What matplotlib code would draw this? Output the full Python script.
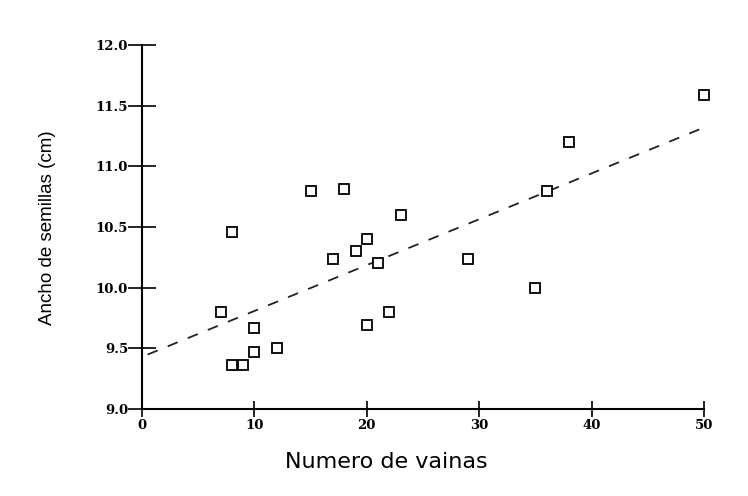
import matplotlib
matplotlib.use("Agg")
import matplotlib.pyplot as plt
import numpy as np

# Data
num_vainas = [7, 8, 8, 9, 10, 10, 12, 15, 17, 18, 19, 20, 20, 21, 22, 23, 29, 35, 36, 38, 50]
ancho_semillas = [9.80, 10.46, 9.36, 9.36, 9.67, 9.47, 9.50, 10.80, 10.24, 10.81, 10.30,
                  10.40, 9.69, 10.20, 9.80, 10.60, 10.24, 10.00, 10.80, 11.20, 11.59]
fit_intercept = 9.43
fit_slope = 0.0378
fit_x_range = [0.5, 50]

x_ticks = [0, 10, 20, 30, 40, 50]
x_tick_labels = ["0", "10", "20", "30", "40", "50"]
y_ticks = [9.0, 9.5, 10.0, 10.5, 11.0, 11.5, 12.0]
y_tick_labels = ["9.0", "9.5", "10.0", "10.5", "11.0", "11.5", "12.0"]

fig = plt.figure(figsize=(7.48, 4.96), dpi=100)
ax = fig.add_axes([142/748, 1-409/496, (704-142)/748, (409-45)/496])

fx = np.array(fit_x_range)
ax.plot(fx, fit_intercept + fit_slope * fx, color="#222222", lw=1.3,
        dashes=(6, 6), zorder=2)
ax.plot(num_vainas, ancho_semillas, linestyle="none", marker="s", markersize=7,
        markerfacecolor="white", markeredgecolor="black", markeredgewidth=1.3,
        zorder=3, clip_on=False)

ax.set_xlim(0, 50)
ax.set_ylim(9.0, 12.0)
for s in ["top", "right"]:
    ax.spines[s].set_visible(False)
for s in ["left", "bottom"]:
    ax.spines[s].set_linewidth(1.5)

ax.set_xticks(x_ticks)
ax.set_xticklabels(x_tick_labels, fontfamily="DejaVu Serif", fontweight="bold", fontsize=9.5)
ax.set_yticks(y_ticks)
ax.set_yticklabels(y_tick_labels, fontfamily="DejaVu Serif", fontweight="bold", fontsize=9.5)
ax.tick_params(axis="y", direction="inout", length=20, width=1.2, pad=0)
ax.tick_params(axis="x", direction="inout", length=11, width=1.2, pad=2)

fig.text(386/748, 1-462/496, "Numero de vainas", fontfamily="DejaVu Sans",
         fontsize=16, ha="center", va="center")
fig.text(48/748, 1-228/496, "Ancho de semillas (cm)", fontfamily="Liberation Sans",
         fontsize=13.5, rotation=90, ha="center", va="center")

fig.savefig("out.png", dpi=100)
